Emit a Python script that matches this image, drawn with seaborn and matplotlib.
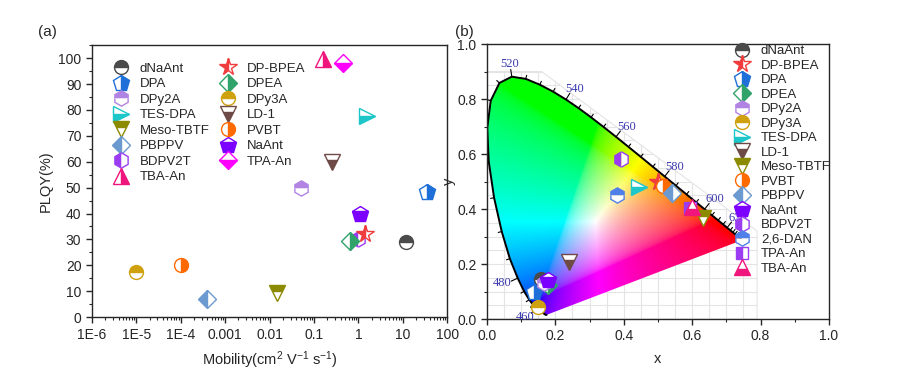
import numpy as np
import matplotlib
matplotlib.use("Agg")
import matplotlib.pyplot as plt
import matplotlib.transforms as mtransforms
from matplotlib.lines import Line2D
from matplotlib.patches import Polygon
from matplotlib.ticker import FixedLocator, FixedFormatter, LogLocator, NullFormatter, MultipleLocator
import seaborn as sns

# ---- (a) mobility vs PLQY ----
mob_names = ["dNaAnt", "DPA", "DPy2A", "TES-DPA", "Meso-TBTF", "PBPPV", "BDPV2T", "TBA-An",
             "DP-BPEA", "DPEA", "DPy3A", "LD-1", "PVBT", "NaAnt", "TPA-An"]
mobility = [12, 35, 0.05, 1.6, 0.015, 4e-4, 1.0, 0.16, 1.4, 0.63, 1e-5, 0.25, 1e-4, 1.1, 0.45]
plqy = [29, 48.5, 50, 77.5, 9.5, 7, 30, 99.5, 32, 29.5, 17.5, 60, 20, 40, 98]
xtick_vals = [1e-6, 1e-5, 1e-4, 1e-3, 1e-2, 1e-1, 1, 10, 100]
xtick_labels = ["1E-6", "1E-5", "1E-4", "0.001", "0.01", "0.1", "1", "10", "100"]

# ---- (b) CIE coordinates ----
cie_names = ["dNaAnt", "DP-BPEA", "DPA", "DPEA", "DPy2A", "DPy3A", "TES-DPA", "LD-1", "Meso-TBTF",
             "PVBT", "PBPPV", "NaAnt", "BDPV2T", "2,6-DAN", "TPA-An", "TBA-An"]
cie_x = [0.157, 0.501, 0.138, 0.180, 0.168, 0.150, 0.444, 0.240, 0.631, 0.514, 0.540, 0.180, 0.391, 0.379, 0.594, 0.601]
cie_y = [0.144, 0.499, 0.099, 0.124, 0.132, 0.045, 0.481, 0.208, 0.366, 0.484, 0.459, 0.142, 0.581, 0.451, 0.403, 0.408]

# CIE 1931 spectral locus, 380-700 nm every 5 nm
locus_nm = list(range(380, 705, 5))
locus_x = [0.1741, 0.1740, 0.1738, 0.1736, 0.1733, 0.1730, 0.1726, 0.1721, 0.1714, 0.1703, 0.1689,
           0.1669, 0.1644, 0.1611, 0.1566, 0.1510, 0.1440, 0.1355, 0.1241, 0.1096, 0.0913, 0.0687,
           0.0454, 0.0235, 0.0082, 0.0039, 0.0139, 0.0389, 0.0743, 0.1142, 0.1547, 0.1929, 0.2296,
           0.2658, 0.3016, 0.3373, 0.3731, 0.4087, 0.4441, 0.4788, 0.5125, 0.5448, 0.5752, 0.6029,
           0.6270, 0.6482, 0.6658, 0.6801, 0.6915, 0.7006, 0.7079, 0.7140, 0.7190, 0.7230, 0.7260,
           0.7283, 0.7300, 0.7311, 0.7320, 0.7327, 0.7334, 0.7340, 0.7344, 0.7346, 0.7347]
locus_y = [0.0050, 0.0050, 0.0049, 0.0049, 0.0048, 0.0048, 0.0048, 0.0048, 0.0051, 0.0058, 0.0069,
           0.0086, 0.0109, 0.0138, 0.0177, 0.0227, 0.0297, 0.0399, 0.0578, 0.0868, 0.1327, 0.2007,
           0.2950, 0.4127, 0.5384, 0.6548, 0.7502, 0.8120, 0.8338, 0.8262, 0.8059, 0.7816, 0.7543,
           0.7243, 0.6923, 0.6589, 0.6245, 0.5896, 0.5547, 0.5202, 0.4866, 0.4544, 0.4242, 0.3965,
           0.3725, 0.3514, 0.3340, 0.3197, 0.3083, 0.2993, 0.2920, 0.2859, 0.2809, 0.2770, 0.2740,
           0.2717, 0.2700, 0.2689, 0.2680, 0.2673, 0.2666, 0.2660, 0.2656, 0.2654, 0.2653]
locus_labels = [460, 480, 520, 540, 560, 580, 600, 620]

# marker styles: (marker, fillstyle, colour, size)
style_a = {
    "dNaAnt": ("o", "top", "#4a4a4a", 10), "DPA": ("p", "right", "#1f6fd8", 12),
    "DPy2A": ("h", "top", "#b183e3", 11), "TES-DPA": (">", "bottom", "#1cc6c9", 11),
    "Meso-TBTF": ("v", "top", "#8c8a00", 11), "PBPPV": ("D", "left", "#6a9ad0", 9),
    "BDPV2T": ("h", "left", "#9a3cf2", 11), "TBA-An": ("^", "right", "#f0157c", 11),
    "DP-BPEA": ("*", "left", "#f03c3c", 13), "DPEA": ("D", "right", "#2fa36a", 9),
    "DPy3A": ("o", "top", "#d0a10f", 10), "LD-1": ("v", "bottom", "#6e4a46", 11),
    "PVBT": ("o", "right", "#ff6a00", 10), "NaAnt": ("p", "bottom", "#7b00ff", 12),
    "TPA-An": ("D", "bottom", "#ff00ff", 9),
}
style_b = dict(style_a)
style_b["2,6-DAN"] = ("h", "top", "#4f7fe8", 11)
style_b["TPA-An"] = ("s", "left", "#9a3cf2", 9)
style_b["TBA-An"] = ("^", "bottom", "#f0157c", 11)

sns.set_style("ticks")
plt.rcParams["font.family"] = ["Liberation Sans", "DejaVu Sans"]
plt.rcParams["mathtext.default"] = "regular"
plt.rcParams["axes.linewidth"] = 1.0


def marker_kw(st):
    m, fs, c, s = st
    return dict(marker=m, fillstyle=fs, markerfacecolor=c, markerfacecoloralt="white",
                markeredgecolor=c, markeredgewidth=1.0, markersize=s, linestyle="none")


def handles(names, styles):
    return [Line2D([], [], label=n, **marker_kw(styles[n])) for n in names]


fig = plt.figure(figsize=(9, 3.83), dpi=100)
ax1 = fig.add_axes([0.102, 0.172, 0.395, 0.710])
ax2 = fig.add_axes([0.541, 0.167, 0.380, 0.718])

# ---------- (a) ----------
for n, mx, my in zip(mob_names, mobility, plqy):
    ax1.plot([mx], [my], **marker_kw(style_a[n]))
ax1.set_xscale("log")
ax1.set_xlim(1e-6, 100)
ax1.set_ylim(0, 105)
ax1.xaxis.set_major_locator(FixedLocator(xtick_vals))
ax1.xaxis.set_major_formatter(FixedFormatter(xtick_labels))
ax1.xaxis.set_minor_locator(LogLocator(base=10, subs=np.arange(2, 10) * 1.0, numticks=20))
ax1.xaxis.set_minor_formatter(NullFormatter())
ax1.yaxis.set_major_locator(MultipleLocator(10))
ax1.yaxis.set_minor_locator(MultipleLocator(5))
ax1.tick_params(which="major", direction="out", length=4, width=1, labelsize=10)
ax1.tick_params(which="minor", direction="out", length=2, width=0.8)
ax1.set_xlabel("Mobility(cm$^2$ V$^{-1}$ s$^{-1}$)", fontsize=10.5, labelpad=6)
ax1.set_ylabel("PLQY(%)", fontsize=10.5, labelpad=4)
ax1.legend(handles=handles(mob_names, style_a), ncol=2, loc="upper left",
           bbox_to_anchor=(0.02, 0.98), frameon=False, fontsize=9.5, labelspacing=0.25,
           handletextpad=0.7, columnspacing=0.6, handlelength=1.5)

# ---------- (b) ----------
ax2.set_xlim(0, 1)
ax2.set_ylim(0, 1)
# horseshoe drawn the way the template image sits in the frame
diag = mtransforms.Affine2D().scale(1.02, 1.045).translate(-0.003, 0.01) + ax2.transData

lx = np.array(locus_x)
ly = np.array(locus_y)
# background grid of the template
grid_clip = Polygon([(0, 0), (0.79, 0), (0.79, 0.32), (0.16, 0.9), (0, 0.9)], closed=True,
                    transform=ax2.transData, facecolor="none", edgecolor="#e4e4e4", lw=0.8, zorder=0.5)
ax2.add_patch(grid_clip)
for g in np.arange(0.05, 0.79, 0.05):
    ln, = ax2.plot([g, g], [0, 0.9], color="#e4e4e4", lw=0.8, zorder=0.5)
    ln.set_clip_path(grid_clip)
for g in np.arange(0.05, 0.91, 0.05):
    ln, = ax2.plot([0, 0.79], [g, g], color="#e4e4e4", lw=0.8, zorder=0.5)
    ln.set_clip_path(grid_clip)

# colour fill from chromaticity
gx, gy = np.meshgrid(np.linspace(0.0, 0.76, 500), np.linspace(0.001, 0.86, 560))
X = gx / gy
Z = (1 - gx - gy) / gy
M = np.array([[3.2406, -1.5372, -0.4986], [-0.9689, 1.8758, 0.0415], [0.0557, -0.2040, 1.0570]])
rgb = np.stack([M[i, 0] * X + M[i, 1] + M[i, 2] * Z for i in range(3)], axis=-1)
rgb = np.clip(rgb, 0, None)
rgb = rgb / rgb.max(axis=-1, keepdims=True)
rgb = np.where(rgb <= 0.0031308, 12.92 * rgb, 1.055 * rgb ** (1 / 2.4) - 0.055)
rgb = np.clip(rgb, 0, 1)
img = ax2.imshow(rgb, origin="lower", extent=(0.0, 0.76, 0.001, 0.86), transform=diag,
                 aspect="auto", interpolation="bilinear", zorder=1)
horse = Polygon(np.column_stack([lx, ly]), closed=True, transform=diag, facecolor="none",
                edgecolor="none")
ax2.add_patch(horse)
img.set_clip_path(horse)
ax2.plot(lx, ly, color="black", lw=1.4, transform=diag, zorder=2)

# wavelength ticks and labels
sx, sy = 342.0, 275.0
for i, nm in enumerate(locus_nm):
    if nm < 455 or nm > 650:
        continue
    tx = (lx[i + 1] - lx[i - 1]) * sx
    ty = (ly[i + 1] - ly[i - 1]) * sy
    nrm = np.hypot(tx, ty)
    nx, ny = -ty / nrm, tx / nrm
    L = 7.0 if nm in locus_labels else 3.5
    ax2.plot([lx[i], lx[i] + nx * L / sx], [ly[i], ly[i] + ny * L / sy], color="black",
             lw=0.8, transform=diag, zorder=2)
    if nm in locus_labels:
        ax2.annotate(str(nm), xy=(lx[i], ly[i]), xycoords=diag,
                     xytext=(nx * 12, ny * 9), textcoords="offset points",
                     ha="center", va="center", fontsize=9, color="#3a3ab0",
                     family="Liberation Serif", zorder=3)

for n, cx, cy in zip(cie_names, cie_x, cie_y):
    ax2.plot([cx], [cy], zorder=4, **marker_kw(style_b[n]))

ax2.xaxis.set_major_locator(MultipleLocator(0.2))
ax2.xaxis.set_minor_locator(MultipleLocator(0.1))
ax2.yaxis.set_major_locator(MultipleLocator(0.2))
ax2.yaxis.set_minor_locator(MultipleLocator(0.1))
ax2.xaxis.set_major_formatter(matplotlib.ticker.FormatStrFormatter("%.1f"))
ax2.yaxis.set_major_formatter(matplotlib.ticker.FormatStrFormatter("%.1f"))
ax2.tick_params(which="major", direction="out", length=4, width=1, labelsize=10)
ax2.tick_params(which="minor", direction="out", length=2, width=0.8)
ax2.set_xlabel("x", fontsize=10.5, labelpad=6)
ax2.set_ylabel("y", fontsize=10.5, labelpad=1)
fig.legend(handles=handles(cie_names, style_b), loc="upper left",
           bbox_to_anchor=(0.8, 0.913), frameon=False, fontsize=9.5, labelspacing=0.17,
           handletextpad=0.7, handlelength=1.5)

fig.text(0.042, 0.905, "(a)", fontsize=11)
fig.text(0.505, 0.905, "(b)", fontsize=11)

fig.savefig("out.png", dpi=100)
